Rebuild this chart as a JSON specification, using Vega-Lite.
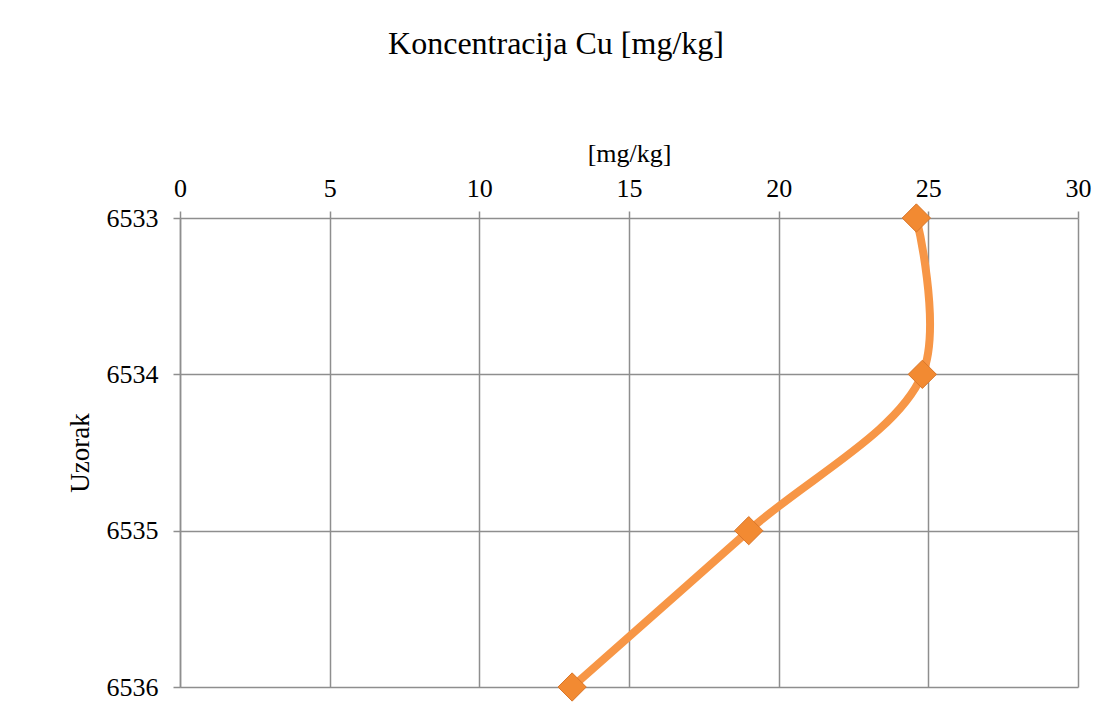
{
  "$schema": "https://vega.github.io/schema/vega-lite/v6.json",
  "width": 898,
  "height": 469,
  "autosize": {"type": "none"},
  "padding": {"left": 180, "top": 218, "right": 24, "bottom": 15},
  "background": "white",
  "title": {
    "text": "Koncentracija Cu [mg/kg]",
    "font": "Liberation Serif",
    "fontSize": 32,
    "fontWeight": "normal",
    "color": "black",
    "anchor": "middle",
    "frame": "group",
    "dx": -73,
    "offset": 79
  },
  "config": {
    "view": {"stroke": null},
    "axis": {
      "labelFont": "Liberation Serif",
      "titleFont": "Liberation Serif",
      "labelColor": "black",
      "titleColor": "black",
      "titleFontWeight": "normal",
      "gridColor": "#8E8E8E",
      "gridWidth": 1.5,
      "gridOpacity": 1,
      "domainColor": "#8E8E8E",
      "domainWidth": 1.5,
      "tickColor": "#8E8E8E",
      "tickWidth": 1.5,
      "tickSize": 7,
      "labelFlush": false
    }
  },
  "data": {
    "values": [
      {"Uzorak": "6533", "Cu": 24.6, "ord": 1},
      {"Uzorak": "6534", "Cu": 24.8, "ord": 2},
      {"Uzorak": "6535", "Cu": 19.0, "ord": 3},
      {"Uzorak": "6536", "Cu": 13.1, "ord": 4}
    ]
  },
  "encoding": {
    "x": {
      "field": "Cu",
      "type": "quantitative",
      "scale": {"domain": [0, 30], "nice": false, "zero": true},
      "axis": {
        "orient": "top",
        "title": "[mg/kg]",
        "values": [0, 5, 10, 15, 20, 25, 30],
        "labelFontSize": 26,
        "titleFontSize": 26,
        "labelPadding": 10,
        "titlePadding": 9,
        "grid": true,
        "domain": false
      }
    },
    "y": {
      "field": "Uzorak",
      "type": "ordinal",
      "sort": ["6533", "6534", "6535", "6536"],
      "scale": {"type": "point", "padding": 0},
      "axis": {
        "title": "Uzorak",
        "labelFontSize": 26,
        "titleFontSize": 27,
        "labelPadding": 15,
        "titlePadding": 12,
        "grid": true,
        "domain": true
      }
    }
  },
  "layer": [
    {
      "mark": {"type": "line", "interpolate": "catmull-rom", "color": "#F79646", "strokeWidth": 8},
      "encoding": {"order": {"field": "ord", "type": "quantitative"}}
    },
    {
      "mark": {"type": "point", "shape": "diamond", "filled": true, "size": 800, "fill": "#F28A32", "stroke": "#D8762A", "strokeWidth": 1, "opacity": 1}
    }
  ]
}
